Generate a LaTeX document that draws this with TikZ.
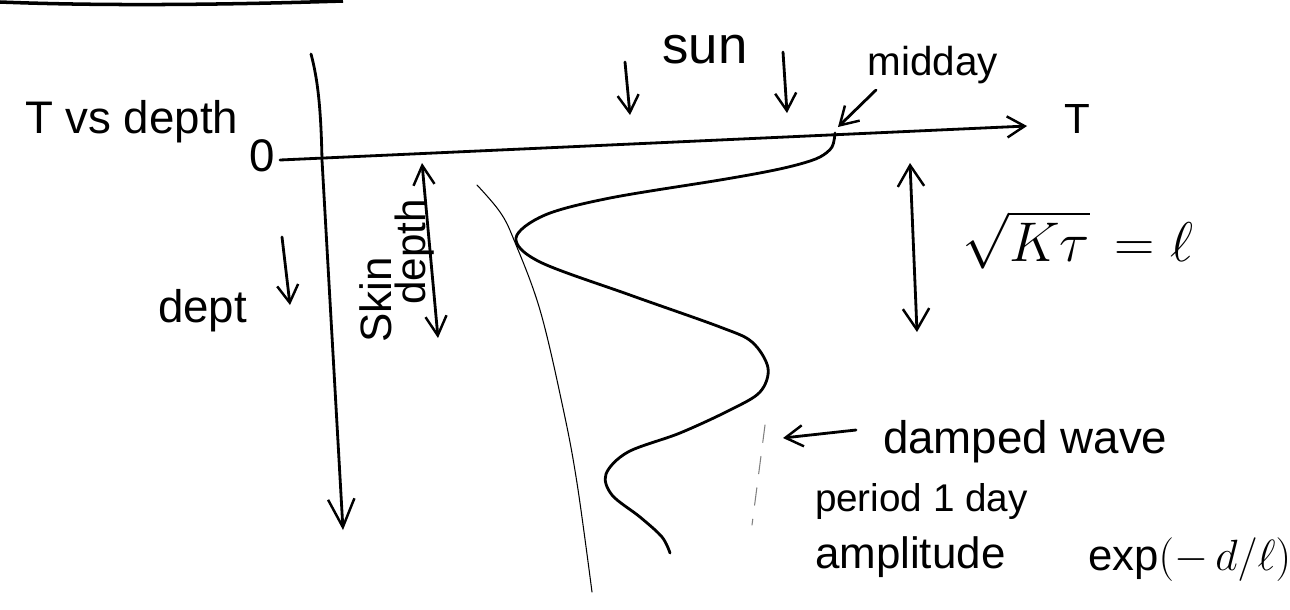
\documentclass[tikz,border=0pt]{standalone}
\usepackage{graphicx}
\usepackage{fontspec}
\setmainfont{Liberation Sans}
\usetikzlibrary{arrows.meta}
\newcommand{\myfs}[1]{\fontsize{#1}{#1}\selectfont}
\begin{document}
\begin{tikzpicture}[x=0.02cm,y=-0.02cm,
  ink/.style={line width=1.6pt, line cap=round, line join=round},
  thinink/.style={line width=0.6pt, line cap=round},
  tipS/.style={-{Straight Barb[length=10pt,width=12pt,line width=1.4pt]}},
  tipSS/.style={{Straight Barb[length=11pt,width=12pt,line width=1.4pt]}-{Straight Barb[length=11pt,width=12pt,line width=1.4pt]}},
  tipL/.style={-{Straight Barb[length=16pt,width=15pt,line width=1.4pt]}},
  tipLL/.style={{Straight Barb[length=12pt,width=15pt,line width=1.4pt]}-{Straight Barb[length=12pt,width=15pt,line width=1.4pt]}},
  lbl/.style={inner sep=0pt, outer sep=0pt}
]
\useasboundingbox (0,0) rectangle (1290,609);

% top-left rule
\coordinate (r1) at (0,2);
\coordinate (r2) at (343,1);
\draw[line width=2pt] (r1) .. controls (100,6) and (220,5) .. (r2);

% labels
\node[lbl, anchor=base west, font=\myfs{26}] (title) at (25,133) {T vs depth};
\node[lbl, font=\myfs{26}] (zero) at (262,156) {0};
\node[lbl, anchor=base, font=\myfs{30}] (sun) at (705,63) {sun};
\node[lbl, anchor=base, font=\myfs{23}] (midday) at (933,75) {midday};
\node[lbl, anchor=base, font=\myfs{24}] (Tlab) at (1077,133) {T};
\node[lbl, anchor=base west, font=\myfs{26}] (dept) at (158,322) {dept};
\node[lbl, rotate=90, anchor=base, font=\myfs{25}] (skin) at (391,300) {Skin};
\node[lbl, rotate=90, anchor=base, font=\myfs{24}] (depthlab) at (425,252) {depth};
\node[lbl, font=\myfs{24.88}] (kt) at (1078,240) {\scalebox{1.28}{$\sqrt{K\tau}\,=\ell$}};
\node[lbl, anchor=base west, font=\myfs{26}] (damped) at (883,453) {damped wave};
\node[lbl, anchor=base west, font=\myfs{22}] (period) at (815,511) {period 1 day};
\node[lbl, anchor=base west, font=\myfs{25}] (ampl) at (815,568) {amplitude};
\node[lbl, anchor=base west, font=\myfs{20.74}] (expr) at (1088,570) {\scalebox{1.2}{exp$(-\,d/\ell)$}};

% axes
\coordinate (hstart) at (280,160);
\coordinate (htip) at (1027,126);
\draw[ink, tipS] (hstart) -- (htip);
\coordinate (vtop) at (311,54);
\coordinate (vbot) at (343,530);
\draw[ink, tipL] (vtop) .. controls (318,80) and (321,110) .. (322,160) -- (vbot);

% depth arrow
\coordinate (da1) at (282,237);
\coordinate (da2) at (290,305);
\draw[ink, tipS] (da1) -- (da2);

% sun arrows
\coordinate (s1a) at (625,62);
\coordinate (s1b) at (630,115);
\coordinate (s2a) at (783,52);
\coordinate (s2b) at (787,113);
\draw[ink, tipS] (s1a) -- (s1b);
\draw[ink, tipS] (s2a) -- (s2b);

% midday arrow
\coordinate (ma) at (876,90);
\coordinate (mb) at (838,127);
\draw[ink, tipS] (ma) -- (mb);

% skin depth double arrow
\coordinate (sk1) at (422,163);
\coordinate (sk2) at (438,338);
\draw[ink, tipSS] (sk1) -- (sk2);

% l double arrow
\coordinate (l1) at (910,163);
\coordinate (l2) at (917,332);
\draw[ink, tipLL] (l1) -- (l2);

% damped wave pointer
\coordinate (dw1) at (856,430);
\coordinate (dw2) at (783,438);
\draw[ink, tipS] (dw1) -- (dw2);

% damped wave curve
\draw[ink] plot[smooth, tension=0.55] coordinates {
 (835,133) (832,147) (820,157) (800,164) (770,171) (720,180) (610,198)
 (545,215) (516,238) (540,262) (630,295) (720,327) (752,342) (768,368)
 (760,392) (730,410) (680,433) (628,452) (606,474) (612,495) (640,517)
 (662,537) (670,553)};

% thin envelope curve
\draw[thinink] plot[smooth, tension=0.6] coordinates {
 (477,185) (500,212) (514,240) (540,310) (563,408) (577,483) (592,592)};

% faint dashed line
\draw[thinink, gray, dash pattern=on 10pt off 8pt] (765,425) -- (752,525);
\end{tikzpicture}
\end{document}
